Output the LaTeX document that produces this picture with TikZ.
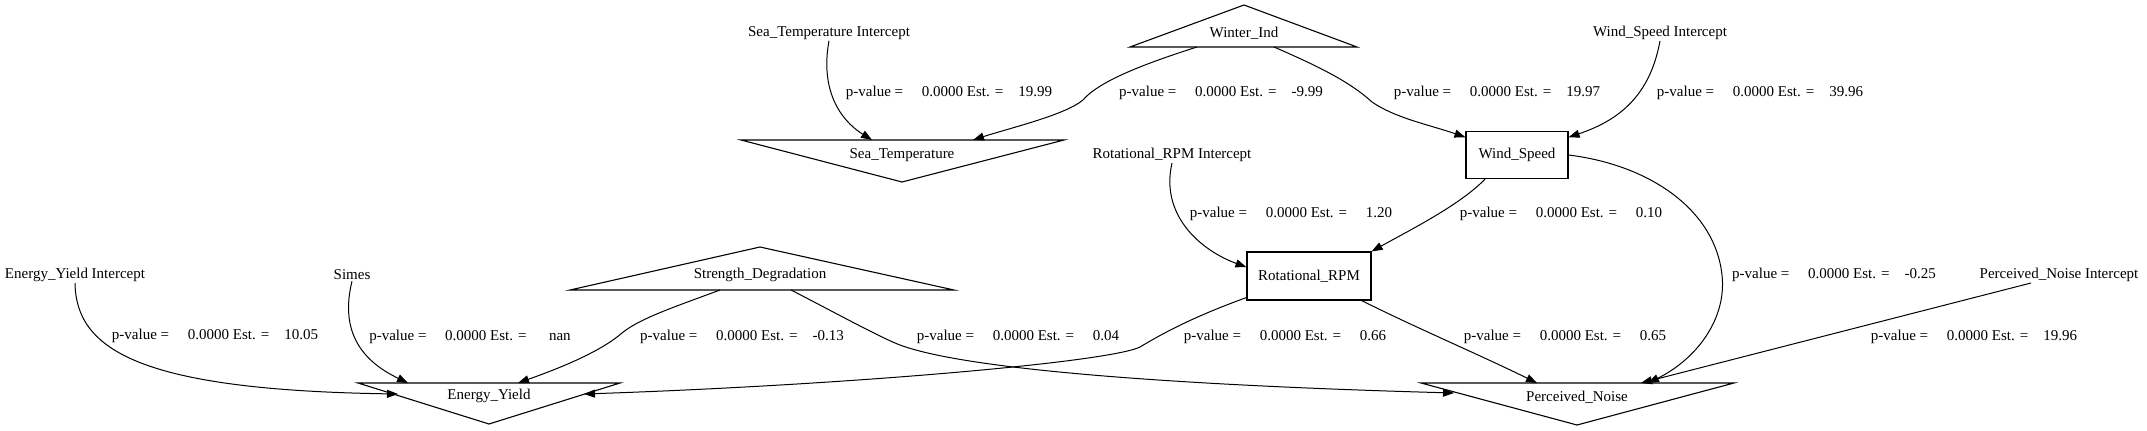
\documentclass[tikz,border=0pt]{standalone}
\usepackage{fontspec}
\setmainfont{Liberation Serif}
\usetikzlibrary{calc,arrows.meta}
\def\pval#1{p-value =\ \ \ \ \ 0.0000 Est. =#1}

\begin{document}
\begin{tikzpicture}[x=1pt, y=-1pt,
		txt/.style={inner sep=1pt, font=\fontsize{15}{18}\selectfont},
		var/.style={txt, draw, line width=1.1pt, minimum height=47pt},
		shp/.style={line width=1.1pt},
		edge/.style={line width=1pt, -{Triangle[length=11pt,width=8pt]}}]
			%%%%% START %%%%%
			\useasboundingbox (0,0) rectangle (2147,431);
			
			% intercepts
			\node[txt] (eyI) at (75,275) {Energy\_Yield Intercept};
			\node[txt] (simes) at (352,275) {Simes};
			\node[txt] (stI) at (829,33) {Sea\_Temperature Intercept};
			\node[txt] (rrpmI) at (1172,155) {Rotational\_RPM Intercept};
			\node[txt] (wsI) at (1660,33) {Wind\_Speed Intercept};
			\node[txt] (pnI) at (2059,275) {Perceived\_Noise Intercept};
			
			% triangles
			\node[txt] (wi) at (1244,33) {Winter\_Ind};
			\draw[shp] ($(wi)+(0,-28)$) -- ($(wi)+(113,14)$) -- ($(wi)+(-114,14)$) -- cycle;
			\node[txt] (sd) at (760,275) {Strength\_Degradation};
			\draw[shp] ($(sd)+(0,-28)$) -- ($(sd)+(194,15)$) -- ($(sd)+(-190,15)$) -- cycle;
			
			\node[txt] (st) at (902,155) {Sea\_Temperature};
			\draw[shp] ($(st)+(-161,-15)$) -- ($(st)+(162,-15)$) -- ($(st)+(0,27)$) -- cycle;
			\node[txt] (ey) at (489,396) {Energy\_Yield};
			\draw[shp] ($(ey)+(-131,-13)$) -- ($(ey)+(131,-13)$) -- ($(ey)+(0,28)$) -- cycle;
			\node[txt] (pn) at (1577,397) {Perceived\_Noise};
			\draw[shp] ($(pn)+(-156,-14)$) -- ($(pn)+(157,-14)$) -- ($(pn)+(0,28)$) -- cycle;
			
			% boxes
			\node[var, minimum width=102pt] (ws) at (1517,155) {Wind\_Speed};
			\node[var, minimum width=124pt, minimum height=48pt] (rrpm) at (1309,276) {Rotational\_RPM};
			
			% edges
			\draw[edge] (eyI.south) .. controls (76,350) and (140,390) .. ($(ey)+(-91,-2)$);
			\draw[edge] (simes.south) .. controls (340,330) and (360,360) .. ($(ey)+(-81,-13)$);
			\draw[edge] (stI.south) .. controls (820,90) and (840,120) .. ($(st)+(-30,-15)$);
			\draw[edge] (rrpmI.south) .. controls (1160,215) and (1200,250) .. (rrpm.172);
			\draw[edge] (wsI.south) .. controls (1650,95) and (1620,120) .. (ws.19);
			\draw[edge] ([xshift=-28pt]pnI.south) -- ($(pn)+(64,-14)$);
			
			\draw[edge] ($(wi)+(-47,14)$) .. controls (1150,62) and (1100,80) .. (1083,100)
				.. controls (1065,115) and (1010,128) .. ($(st)+(71,-15)$);
			\draw[edge] ($(wi)+(30,14)$) .. controls (1320,67) and (1350,82) .. (1372,102)
				.. controls (1395,118) and (1430,125) .. (ws.161);
			\draw[edge] (ws.217) .. controls (1460,205) and (1410,230) .. (rrpm.north east);
			\draw[edge] (ws.east) .. controls (1650,165) and (1715,210) .. (1722,275)
				.. controls (1727,320) and (1695,360) .. ($(pn)+(71,-14)$);
			\draw[edge] (rrpm.199) .. controls (1190,318) and (1160,335) .. (1140,347)
				.. controls (1110,362) and (850,385) .. ($(ey)+(95,-2)$);
			\draw[edge] (rrpm.-25) .. controls (1410,325) and (1480,355) .. ($(pn)+(-40,-14)$);
			\draw[edge] ($(sd)+(-40,15)$) .. controls (680,305) and (640,318) .. (622,333)
				.. controls (600,352) and (560,368) .. ($(ey)+(29,-13)$);
			\draw[edge] ($(sd)+(31,15)$) .. controls (830,310) and (870,332) .. (895,343)
				.. controls (960,371) and (1200,386) .. ($(pn)+(-123,-4)$);
			
			% estimates
			\node[txt] (eyIey) at (215,336) {\pval{\ \ \ \ 10.05}};
			\node[txt] (simesey) at (470,337) {\pval{\ \ \ \ \ \ nan}};
			\node[txt] (sdey) at (742,337) {\pval{\ \ \ \ -0.13}};
			\node[txt] (sdpn) at (1018,337) {\pval{\ \ \ \ \ 0.04}};
			\node[txt] (rrpmey) at (1285,337) {\pval{\ \ \ \ \ 0.66}};
			\node[txt] (rrpmpn) at (1565,337) {\pval{\ \ \ \ \ 0.65}};
			\node[txt] (pnIpn) at (1974,337) {\pval{\ \ \ \ 19.96}};
			\node[txt] (wspn) at (1834,275) {\pval{\ \ \ \ -0.25}};
			\node[txt] (rrpmIrrpm) at (1291,214) {\pval{\ \ \ \ \ 1.20}};
			\node[txt] (wsrrpm) at (1561,214) {\pval{\ \ \ \ \ 0.10}};
			\node[txt] (stIst) at (949,93) {\pval{\ \ \ \ 19.99}};
			\node[txt] (wist) at (1221,93) {\pval{\ \ \ \ -9.99}};
			\node[txt] (wiws) at (1497,93) {\pval{\ \ \ \ 19.97}};
			\node[txt] (wsIws) at (1760,93) {\pval{\ \ \ \ 39.96}};
			%%%%% END %%%%%
		\end{tikzpicture}
\end{document}
